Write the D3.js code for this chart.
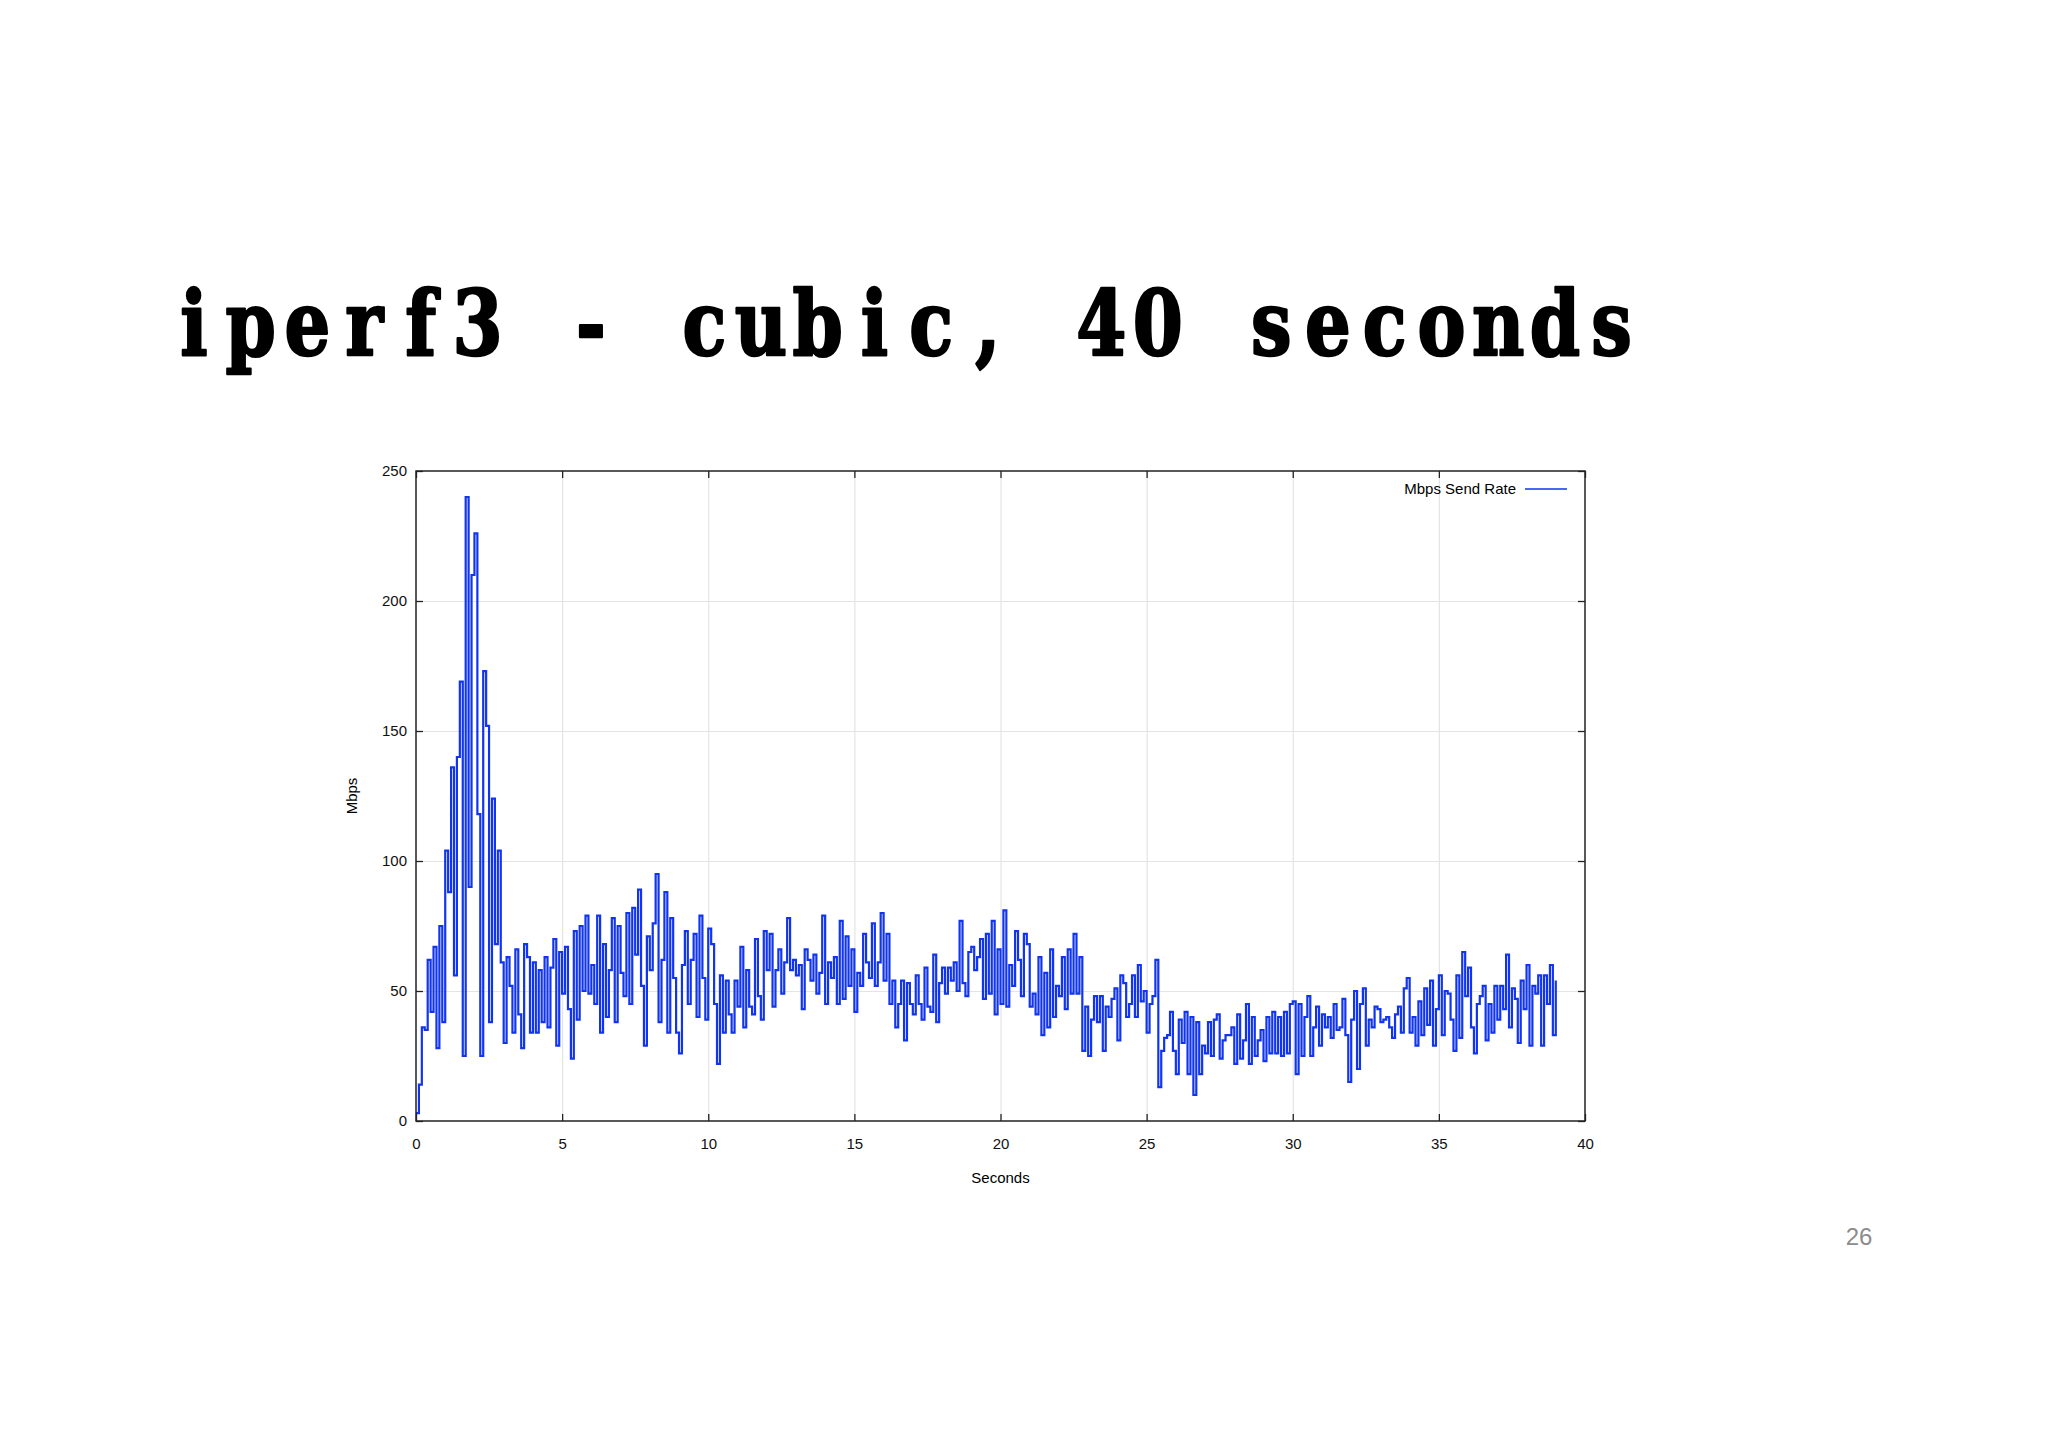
<!DOCTYPE html>
<html>
<head>
<meta charset="utf-8">
<script src="https://cdn.jsdelivr.net/npm/d3@7"></script>
<style>
  body { margin: 0; background: #fff; }
  svg { display: block; }
  .tick text { font-family: "Liberation Sans", Arial, sans-serif; font-size: 15px; fill: #111; }
</style>
</head>
<body>
<div id="chart"></div>
<script>
// send rate samples, one every 0.1 s
const step = 0.1;
const mbps = [
  3, 14, 36, 35, 62, 42, 67, 28, 75, 38,
  104, 88, 136, 56, 140, 169, 25, 240, 90, 210,
  226, 118, 25, 173, 152, 38, 124, 68, 104, 61,
  30, 63, 52, 34, 66, 41, 28, 68, 63, 34,
  61, 34, 58, 38, 63, 36, 59, 70, 29, 65,
  49, 67, 43, 24, 73, 39, 75, 50, 79, 49,
  60, 45, 79, 34, 68, 40, 58, 78, 38, 75,
  57, 48, 80, 45, 82, 64, 89, 52, 29, 71,
  58, 76, 95, 38, 62, 88, 34, 78, 55, 34,
  26, 60, 73, 45, 62, 72, 40, 79, 55, 39,
  74, 68, 45, 22, 56, 34, 54, 41, 34, 54,
  44, 67, 36, 58, 44, 41, 70, 48, 39, 73,
  58, 72, 44, 58, 66, 49, 61, 78, 58, 62,
  56, 60, 43, 66, 62, 54, 64, 49, 57, 79,
  45, 61, 55, 63, 45, 77, 47, 71, 52, 66,
  42, 57, 52, 72, 61, 55, 76, 52, 61, 80,
  54, 72, 45, 54, 36, 45, 54, 31, 53, 45,
  41, 56, 45, 39, 59, 44, 42, 64, 38, 53,
  59, 49, 59, 54, 61, 50, 77, 53, 48, 65,
  67, 58, 63, 70, 47, 72, 49, 77, 41, 66,
  45, 81, 44, 60, 52, 73, 62, 48, 72, 68,
  44, 49, 41, 63, 33, 57, 36, 66, 40, 52,
  48, 63, 43, 66, 49, 72, 49, 63, 27, 44,
  25, 39, 48, 38, 48, 27, 44, 40, 47, 51,
  31, 56, 53, 40, 45, 56, 40, 60, 46, 50,
  34, 45, 48, 62, 13, 27, 32, 33, 42, 27,
  18, 39, 30, 42, 18, 40, 10, 38, 18, 29,
  26, 38, 25, 39, 41, 24, 31, 33, 33, 36,
  22, 41, 24, 31, 45, 22, 40, 25, 31, 35,
  23, 40, 26, 42, 26, 40, 25, 42, 26, 45,
  46, 18, 45, 25, 40, 48, 25, 36, 44, 29,
  41, 36, 40, 32, 45, 35, 36, 47, 33, 15,
  39, 50, 20, 45, 51, 29, 39, 36, 44, 43,
  38, 39, 40, 36, 32, 41, 44, 34, 51, 55,
  34, 40, 29, 46, 33, 51, 37, 54, 29, 43,
  56, 33, 50, 49, 39, 27, 56, 32, 65, 48,
  59, 36, 26, 45, 48, 52, 31, 45, 34, 52,
  39, 52, 43, 64, 36, 51, 47, 30, 54, 43,
  60, 29, 52, 49, 56, 29, 56, 45, 60, 33,
  54
];

const xTicks = [0, 5, 10, 15, 20, 25, 30, 35, 40];
const yTicks = [0, 50, 100, 150, 200, 250];
const titleText = "iperf3 - cubic, 40 seconds";
const legendLabel = "Mbps Send Rate";
const xLabel = "Seconds";
const yLabel = "Mbps";
const pageNumber = "26";

const W = 2048, H = 1448;
const plot = { left: 416, top: 471, right: 1585, bottom: 1121 };
const lineColor = "#1034f0";

const svg = d3.select("#chart").append("svg")
    .attr("width", W)
    .attr("height", H);

svg.append("rect").attr("width", W).attr("height", H).attr("fill", "#fff");

// slide title, typewriter style: one glyph per fixed-width cell, squeezed a bit
const cell = 56.7;
svg.append("g")
    .selectAll("text")
    .data(titleText.split(""))
    .enter()
    .append("text")
    .attr("transform", (d, i) => `translate(${194 + i * cell}, 355) scale(0.8, 1)`)
    .attr("text-anchor", "middle")
    .style("font-family", "'DejaVu Serif', serif")
    .style("font-weight", "bold")
    .style("font-size", "90px")
    .attr("fill", "#000")
    .attr("stroke", "#000")
    .attr("stroke-width", 2.5)
    .attr("stroke-linejoin", "round")
    .text(d => d);

// scales
const x = d3.scaleLinear().domain([0, 40]).range([plot.left, plot.right]);
const y = d3.scaleLinear().domain([0, 250]).range([plot.bottom, plot.top]);
const pw = plot.right - plot.left;
const ph = plot.bottom - plot.top;

// grid
const gridX = svg.append("g")
    .attr("transform", `translate(0, ${plot.bottom})`)
    .call(d3.axisBottom(x).tickValues(xTicks.slice(1, -1)).tickSize(-ph).tickFormat(""));
const gridY = svg.append("g")
    .attr("transform", `translate(${plot.left}, 0)`)
    .call(d3.axisLeft(y).tickValues(yTicks.slice(1, -1)).tickSize(-pw).tickFormat(""));
[gridX, gridY].forEach(g => {
    g.select(".domain").remove();
    g.selectAll("line").attr("stroke", "#e4e4e4").attr("stroke-width", 1.2);
});

// series
const line = d3.line()
    .x((d, i) => x(i * step))
    .y(d => y(d))
    .curve(d3.curveStepAfter);

svg.append("path")
    .datum(mbps)
    .attr("fill", "none")
    .attr("stroke", lineColor)
    .attr("stroke-width", 2.2)
    .attr("d", line);

// axes, ticks pointing inward on all four sides
const axLeft = svg.append("g")
    .attr("transform", `translate(${plot.left}, 0)`)
    .call(d3.axisLeft(y).tickValues(yTicks).tickSize(-7).tickPadding(9));
const axRight = svg.append("g")
    .attr("transform", `translate(${plot.right}, 0)`)
    .call(d3.axisRight(y).tickValues(yTicks).tickSize(-7).tickFormat(""));
const axBottom = svg.append("g")
    .attr("transform", `translate(0, ${plot.bottom})`)
    .call(d3.axisBottom(x).tickValues(xTicks).tickSize(-7).tickPadding(17));
const axTop = svg.append("g")
    .attr("transform", `translate(0, ${plot.top})`)
    .call(d3.axisTop(x).tickValues(xTicks).tickSize(-7).tickFormat(""));
[axLeft, axRight, axBottom, axTop].forEach(g => {
    g.select(".domain").remove();
    g.selectAll("line").attr("stroke", "#222").attr("stroke-width", 1.3);
});

// frame
svg.append("rect")
    .attr("x", plot.left)
    .attr("y", plot.top)
    .attr("width", pw)
    .attr("height", ph)
    .attr("fill", "none")
    .attr("stroke", "#222")
    .attr("stroke-width", 1.5);

// axis titles
svg.append("text")
    .attr("x", (plot.left + plot.right) / 2)
    .attr("y", 1183)
    .attr("text-anchor", "middle")
    .style("font-family", "'Liberation Sans', Arial, sans-serif")
    .style("font-size", "15px")
    .text(xLabel);

svg.append("text")
    .attr("transform", `translate(357, ${(plot.top + plot.bottom) / 2}) rotate(-90)`)
    .attr("text-anchor", "middle")
    .style("font-family", "'Liberation Sans', Arial, sans-serif")
    .style("font-size", "15px")
    .text(yLabel);

// legend
svg.append("text")
    .attr("x", 1516)
    .attr("y", 494)
    .attr("text-anchor", "end")
    .style("font-family", "'Liberation Sans', Arial, sans-serif")
    .style("font-size", "15px")
    .text(legendLabel);
svg.append("line")
    .attr("x1", 1525).attr("x2", 1567)
    .attr("y1", 489).attr("y2", 489)
    .attr("stroke", lineColor)
    .attr("stroke-width", 1.7);

// page number
svg.append("text")
    .attr("x", 1859)
    .attr("y", 1245)
    .attr("text-anchor", "middle")
    .style("font-family", "'Liberation Sans', Arial, sans-serif")
    .style("font-size", "24px")
    .attr("fill", "#8c8c8c")
    .text(pageNumber);
</script>
</body>
</html>
